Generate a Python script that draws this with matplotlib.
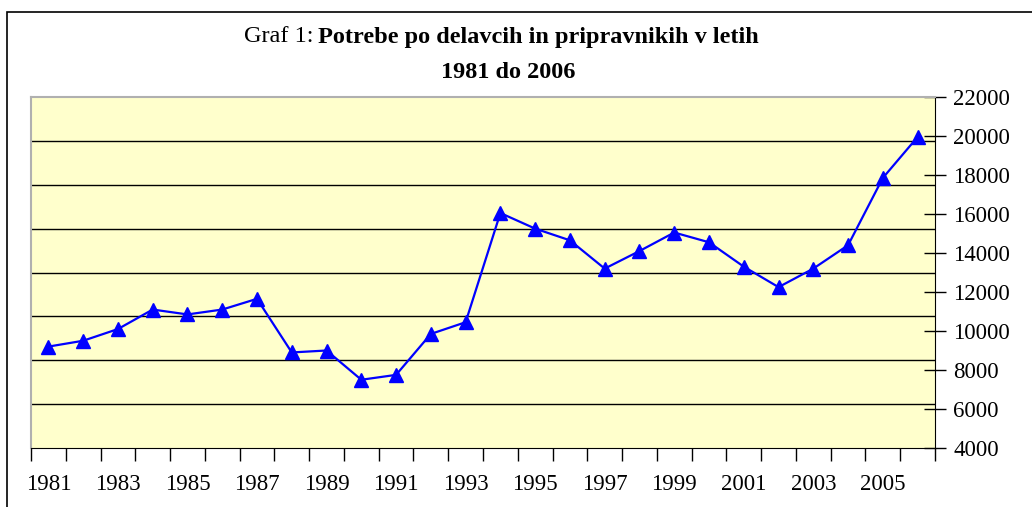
import numpy as np
import matplotlib.pyplot as plt
from matplotlib.patches import Rectangle

plt.rcParams['font.family'] = ['Liberation Serif', 'DejaVu Serif']

years = list(range(1981, 2007))
values = [9200, 9500, 10100, 11100, 10850, 11100, 11650, 8900, 9000, 7500,
          7750, 9850, 10450, 16050, 15250, 14650, 13200, 14100, 15050, 14550,
          13300, 12250, 13200, 14400, 17850, 19950]
y_ticks = list(range(4000, 22001, 2000))
x_labels = [str(y) for y in years[::2]]

W, H = 1032, 507
fig = plt.figure(figsize=(W / 100, H / 100), dpi=100)

# outer chart border (cut off at right and bottom like the original)
fig.patches.append(Rectangle((7 / W, -0.1), 1.1, 1 - 12 / H + 0.1,
                             transform=fig.transFigure, fill=False,
                             edgecolor='black', linewidth=1.2))

left, right, top, bottom = 31, 935, 97, 448
ax = fig.add_axes([left / W, 1 - bottom / H, (right - left) / W, (bottom - top) / H])
ax.set_facecolor('#FFFFCC')

x = np.arange(len(years)) + 0.5
# gridlines split the plot area in 8 parts (independent from the value axis)
for k in range(1, 8):
    ax.plot([0, 1], [k / 8, k / 8], transform=ax.transAxes, color='black',
            linewidth=1, zorder=1)

ax.plot(x, values, color='#0000FF', linewidth=1.6, marker='^', markersize=10,
        zorder=3)

ax.set_xlim(0, len(years))
ax.set_ylim(4000, 22000)

ax.yaxis.tick_right()
ax.set_yticks(y_ticks)
ax.set_yticklabels([str(v) for v in y_ticks])
ax.tick_params(axis='y', direction='inout', length=16, width=1, pad=5,
               labelsize=16.5)

ax.set_xticks(np.arange(0, len(years) + 1))
ax.set_xticklabels([])
ax.set_xticks(x[::2], minor=True)
ax.set_xticklabels(x_labels, minor=True)
ax.tick_params(axis='x', which='major', direction='out', length=9, width=1)
ax.tick_params(axis='x', which='minor', length=0, pad=19, labelsize=16.5)

for s in ['left', 'top']:
    ax.spines[s].set_color('#B0B0B0')
    ax.spines[s].set_linewidth(1.5)
ax.spines['right'].set_color('black')
ax.spines['bottom'].set_color('black')

fig.text(313 / W, 1 - 37 / H, 'Graf 1:', ha='right', va='center', fontsize=17.5)
fig.text(318 / W, 1 - 37 / H, 'Potrebe po delavcih in pripravnikih v letih',
         ha='left', va='center', fontsize=17.5, fontweight='bold')
fig.text(508 / W, 1 - 72 / H, '1981 do 2006', ha='center', va='center',
         fontsize=17.5, fontweight='bold')

fig.savefig('out.png', dpi=100)
